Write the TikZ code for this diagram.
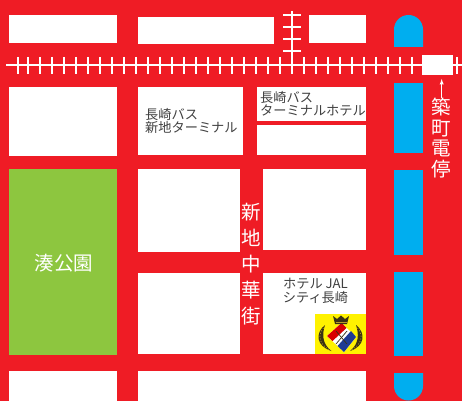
\documentclass[tikz,border=0pt]{standalone}
\usepackage{fontspec}
\newfontfamily\cjk{Noto Sans CJK JP}
\definecolor{roadRed}{HTML}{EF1C25}
\definecolor{canalBlue}{HTML}{00AEEF}
\definecolor{parkGreen}{HTML}{8DC63F}
\definecolor{logoYellow}{HTML}{FFF200}
\definecolor{logoBlue}{HTML}{1F3A93}
\definecolor{logoDark}{HTML}{3A3214}
\definecolor{logoGold}{HTML}{B89A2A}
\begin{document}
\begin{tikzpicture}[x=1pt, y=-1pt]
        \tikzstyle{blockStyle} = [fill=white]
        \tikzstyle{canalStyle} = [fill=canalBlue]
        \tikzstyle{railStyle} = [draw=white, line width=1.1pt]
        \tikzstyle{roadText} = [text=white, font=\cjk\fontsize{19.5}{26}\selectfont, align=center, inner sep=0pt]
        \tikzstyle{placeText} = [text=black!75, font=\cjk\fontsize{13.2}{13}\selectfont, align=left, inner sep=0pt]
        \useasboundingbox (0,0) rectangle (462,401);
        \fill[roadRed] (0,0) rectangle (462,401);
        % city blocks
        \foreach \xa/\ya/\xb/\yb in {9/15/117/43, 138/17/274/44, 309/15/366/43,
                                     9/87/117/156, 138/87/243/155,
                                     257/87/366/121, 257/125/366/155,
                                     138/169/240/252, 263/169/366/250,
                                     138/273/240/354, 263/273/366/354,
                                     9/371/117/401, 138/371/366/401}
            \fill[blockStyle] (\xa,\ya) rectangle (\xb,\yb);
        \fill[parkGreen] (9,169) rectangle (117,355);
        % canal
        \fill[canalStyle] (394,47) -- (394,29.5) arc[start angle=180, end angle=0, radius=14.5pt] -- (423,47) -- cycle;
        \foreach \ya/\yb in {83/153, 170/255, 272/356}
            \fill[canalStyle] (394,\ya) rectangle (423,\yb);
        \fill[canalStyle] (394,373) -- (394,386) arc[start angle=180, end angle=360, radius=14.5pt] -- (423,373) -- cycle;
        % tram lines
        \draw[railStyle] (6,65) -- (462,65);
        \draw[railStyle] (292,11) -- (292,65);
        \foreach \x in {18,28,40,52,...,412,457}
            \draw[railStyle] (\x,57) -- (\x,74);
        \foreach \y in {15,27,39,51}
            \draw[railStyle] (283,\y) -- (301,\y);
        \node[fill=white, minimum width=31pt, minimum height=20pt, inner sep=0pt] (stop) at (437.5,65) {};
        % labels
        \node[roadText] (stopLabel) at (441.7,138) {築\\[-5.5pt]町\\[-5.5pt]電\\[-5.5pt]停};
        \draw[white, line width=0.9pt, -latex, shorten >=3.7pt] (stopLabel.north) -- (stopLabel.north |- stop.south);
        \node[roadText] (parkLabel) at (64,263) {湊公園};
        \node[roadText] (streetLabel) at (251,264.5) {新\\地\\中\\華\\街};
        \node[placeText, anchor=north west] (busNew) at (145,108) {長崎バス\\新地ターミナル};
        \node[placeText, anchor=north west] (busHotel) at (260,91) {長崎バス\\ターミナルホテル};
        \node[placeText, align=center] (hotel) at (315.5,290.5) {ホテル JAL\\[1pt]シティ長崎};
        % hotel emblem
        \fill[logoYellow] (315,314) rectangle (366,354);
        \fill[white] (341.5,323) -- (356,337) -- (344,352) -- (327,336) -- cycle;
        \fill[red!85!black] (341.5,323) -- (346.5,328) -- (332.5,341) -- (327,336) -- cycle;
        \fill[logoBlue] (351,331) -- (356,337) -- (344,352) -- (337.5,346) -- cycle;
        \draw[logoDark, line width=0.7pt] (336,331) -- (347,344);
        \draw[logoDark, line width=0.7pt] (347,331) -- (336,344);
        \fill[logoDark] (333,316) -- (337,319) -- (341,315.5) -- (345,319) -- (349,316) -- (347,324) -- (335,324) -- cycle;
        \draw[logoGold, line width=0.6pt] (335.5,322.5) -- (346.5,322.5);
        \fill[logoDark] (325,325) .. controls (315,333) and (316,346) .. (331.5,351) .. controls (322,344) and (322,334) .. cycle;
        \fill[logoDark] (356,325) .. controls (366,333) and (365,346) .. (350,351) .. controls (359,344) and (359,334) .. cycle;
        \draw[logoGold, line width=0.6pt, dash pattern=on 1.2pt off 1.6pt] (323.5,328) .. controls (317.5,335) and (319,344) .. (329,349.5);
        \draw[logoGold, line width=0.6pt, dash pattern=on 1.2pt off 1.6pt] (357.5,328) .. controls (363.5,335) and (362,344) .. (352,349.5);
    \end{tikzpicture}
\end{document}
